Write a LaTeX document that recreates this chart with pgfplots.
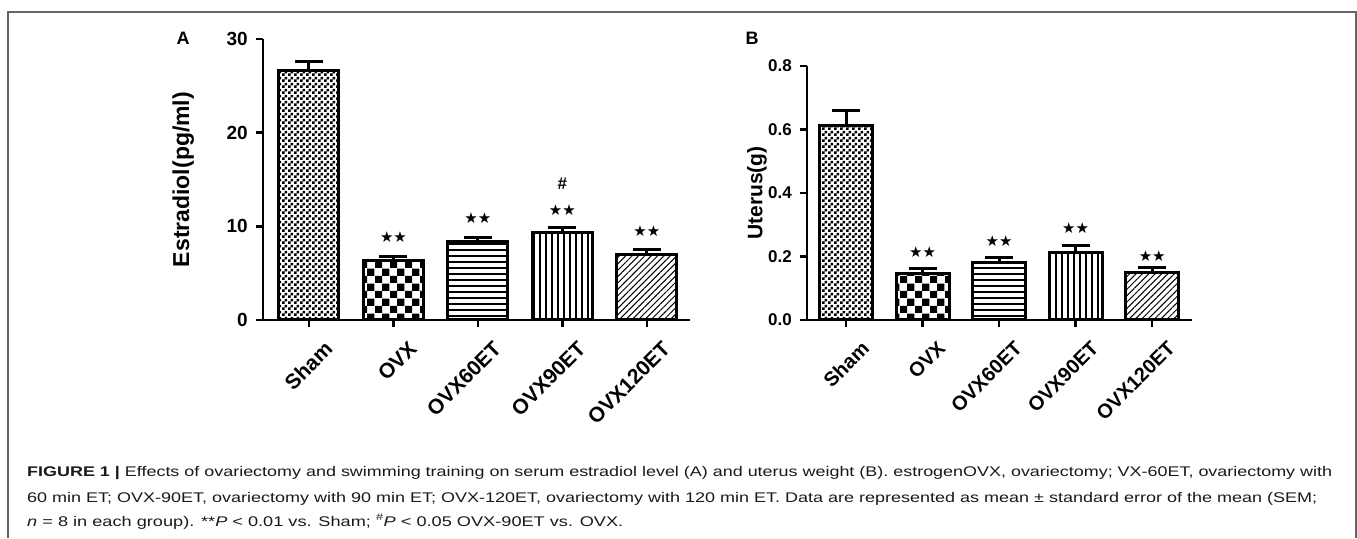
\documentclass[border=0pt]{standalone}
\usepackage{pgfplots}
\pgfplotsset{compat=1.18}
\usetikzlibrary{patterns,patterns.meta}
\usepackage{graphicx}
\usepackage{fontspec}
\setmainfont{Liberation Sans}
\newfontfamily\starfont{DejaVu Sans}

\pgfdeclarepatternformonly{finechecker}{\pgfqpoint{0pt}{0pt}}{\pgfqpoint{6pt}{6pt}}{\pgfqpoint{6pt}{6pt}}{%
  \pgfpathrectangle{\pgfqpoint{0pt}{0pt}}{\pgfqpoint{3pt}{3pt}}%
  \pgfpathrectangle{\pgfqpoint{3pt}{3pt}}{\pgfqpoint{3pt}{3pt}}%
  \pgfusepath{fill}}
\pgfdeclarepatternformonly{coarsechecker}{\pgfqpoint{0pt}{0pt}}{\pgfqpoint{15pt}{15pt}}{\pgfqpoint{15pt}{15pt}}{%
  \pgfpathrectangle{\pgfqpoint{0pt}{0pt}}{\pgfqpoint{7.5pt}{7.5pt}}%
  \pgfpathrectangle{\pgfqpoint{7.5pt}{7.5pt}}{\pgfqpoint{7.5pt}{7.5pt}}%
  \pgfusepath{fill}}

\tikzset{stars/.style={font=\starfont\fontsize{15}{15}\selectfont}}

\pgfplotsset{
  myaxis/.style={
    scale only axis,
    anchor=south west,
    axis x line*=bottom, axis y line*=left,
    axis line style={line width=2.5pt,-},
    tick style={line width=2.5pt,black},
    major tick length=7pt,
    tick align=outside,
    ybar, bar shift=0pt,
    enlargelimits=false,
    xtick={0,1,2,3,4},
    xticklabels={Sham,OVX,OVX60ET,OVX90ET,OVX120ET},
    ymin=0,
    /pgf/number format/assume math mode=true,
    yticklabel style={inner sep=0pt, xshift=-8pt},
    xticklabel style={rotate=45, anchor=north east, inner sep=0pt, yshift=-19pt, xshift=1pt},
    ylabel style={anchor=center},
    error bars/y dir=plus, error bars/y explicit,
    error bars/error bar style={line width=3pt},
    error bars/error mark options={rotate=90, mark size=14pt, line width=3pt},
    every axis plot/.append style={draw=black, line width=3pt},
  },
}

\begin{document}
\begin{tikzpicture}[x=1pt,y=1pt]
\path[use as bounding box] (0pt,0pt) rectangle (1357pt,538pt);
\draw[black!60, line width=1.5pt] (8pt,0pt)--(8pt,526pt)--(1356pt,526pt)--(1356pt,0pt);
\node[font=\bfseries\fontsize{18}{18}\selectfont] at (183pt,500pt) {A};
\node[font=\bfseries\fontsize{18}{18}\selectfont] at (752pt,500pt) {B};

\begin{axis}[myaxis, at={(263pt,218pt)}, width=427pt, height=281pt,
  xmin=-0.544, xmax=4.51, ymax=30, ytick={0,10,20,30},
  bar width=60pt, ylabel={Estradiol(pg/ml)},
  yticklabel style={font=\bfseries\fontsize{19}{19}\selectfont},
  xticklabel style={font=\bfseries\fontsize{21}{21}\selectfont},
  ylabel style={font=\bfseries\fontsize{23}{23}\selectfont, at={(axis description cs:-0.187,0.5)}}]
\addplot[pattern=finechecker] coordinates {(0,26.6) +- (0,1.0)};
\addplot[pattern=coarsechecker] coordinates {(1,6.3) +- (0,0.45)};
\addplot[pattern={Lines[angle=0,distance=6pt,line width=1.8pt]}] coordinates {(2,8.4) +- (0,0.4)};
\addplot[pattern={Lines[angle=90,distance=6pt,line width=1.8pt]}] coordinates {(3,9.3) +- (0,0.55)};
\addplot[pattern={Lines[angle=45,distance=4.5pt,line width=1pt]}] coordinates {(4,7.0) +- (0,0.5)};
\node[stars] at (axis cs:1,8.9) {★★};
\node[stars] at (axis cs:2,10.9) {★★};
\node[stars] at (axis cs:3,11.7) {★★};
\node[font=\bfseries\fontsize{17}{17}\selectfont] at (axis cs:3,14.6) {\#};
\node[stars] at (axis cs:4,9.5) {★★};
\end{axis}

\begin{axis}[myaxis, at={(807pt,218pt)}, width=385pt, height=254pt,
  xmin=-0.51, xmax=4.52, ymax=0.8, ytick={0,0.2,0.4,0.6,0.8},
  /pgf/number format/fixed, /pgf/number format/fixed zerofill, /pgf/number format/precision=1,
  yticklabel style={font=\bfseries\fontsize{17}{17}\selectfont},
  xticklabel style={font=\bfseries\fontsize{20}{20}\selectfont},
  bar width=53pt, ylabel={Uterus(g)},
  ylabel style={font=\bfseries\fontsize{21}{21}\selectfont, at={(axis description cs:-0.13,0.5)}}]
\addplot[pattern=finechecker] coordinates {(0,0.614) +- (0,0.045)};
\addplot[pattern=coarsechecker] coordinates {(1,0.145) +- (0,0.018)};
\addplot[pattern={Lines[angle=0,distance=6pt,line width=1.8pt]}] coordinates {(2,0.182) +- (0,0.015)};
\addplot[pattern={Lines[angle=90,distance=6pt,line width=1.8pt]}] coordinates {(3,0.213) +- (0,0.023)};
\addplot[pattern={Lines[angle=45,distance=4.5pt,line width=1pt]}] coordinates {(4,0.149) +- (0,0.016)};
\node[stars] at (axis cs:1,0.214) {★★};
\node[stars] at (axis cs:2,0.249) {★★};
\node[stars] at (axis cs:3,0.29) {★★};
\node[stars] at (axis cs:4,0.2) {★★};
\end{axis}

\node[anchor=base west, inner sep=0pt, text=black!90] at (27pt,61pt) {\resizebox{1305pt}{\height}{\fontsize{14}{16}\selectfont\textbf{FIGURE 1 |} Effects of ovariectomy and swimming training on serum estradiol level (A) and uterus weight (B). estrogenOVX, ovariectomy; VX-60ET, ovariectomy with}};
\node[anchor=base west, inner sep=0pt, text=black!90] at (27pt,35pt) {\resizebox{1290pt}{\height}{\fontsize{14}{16}\selectfont 60 min ET; OVX-90ET, ovariectomy with 90 min ET; OVX-120ET, ovariectomy with 120 min ET. Data are represented as mean ± standard error of the mean (SEM;}};
\node[anchor=base west, inner sep=0pt, text=black!90] at (27pt,12pt) {\resizebox{596pt}{\height}{\fontsize{14}{16}\selectfont \textit{n} = 8 in each group). **\textit{P} < 0.01 vs. Sham; \textsuperscript{\#}\textit{P} < 0.05 OVX-90ET vs. OVX.}};
\end{tikzpicture}
\end{document}
